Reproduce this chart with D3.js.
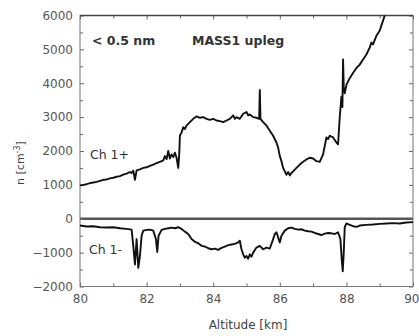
<!DOCTYPE html>
<html><head><meta charset="utf-8">
<script src="https://cdn.jsdelivr.net/npm/d3@7"></script>
<style>body{margin:0;background:#fff}svg{display:block}</style>
</head><body>
<svg id="c" width="419" height="336"></svg>
<script>
const xTicksMajor = [80, 82, 84, 86, 88, 90];
const xTicksMinor = [81, 83, 85, 87, 89];
const yTicksMajor = [-2000, -1000, 0, 1000, 2000, 3000, 4000, 5000, 6000];
const yTicksMinor = [-1500, -500, 500, 1500, 2500, 3500, 4500, 5500];

const posAlt = [80.00,80.10,80.20,80.30,80.40,80.50,80.60,80.70,80.80,80.90,81.00,81.10,81.20,81.30,81.40,81.50,81.55,81.60,81.65,81.70,81.80,81.90,82.00,82.10,82.20,82.30,82.40,82.50,82.55,82.60,82.65,82.70,82.75,82.80,82.85,82.90,82.95,82.98,83.00,83.05,83.10,83.15,83.20,83.30,83.40,83.50,83.60,83.70,83.80,83.90,84.00,84.10,84.20,84.30,84.40,84.50,84.60,84.65,84.70,84.80,84.90,85.00,85.05,85.10,85.20,85.30,85.38,85.40,85.42,85.50,85.60,85.70,85.80,85.90,85.95,86.00,86.05,86.10,86.15,86.20,86.25,86.30,86.35,86.40,86.50,86.60,86.70,86.80,86.90,87.00,87.10,87.20,87.30,87.40,87.45,87.50,87.60,87.70,87.75,87.80,87.85,87.88,87.90,87.92,87.95,88.00,88.10,88.20,88.30,88.40,88.50,88.60,88.70,88.75,88.80,88.90,89.00,89.05,89.10,89.15];
const posVal = [980,1000,1020,1050,1070,1090,1120,1150,1160,1190,1210,1240,1260,1300,1330,1380,1350,1420,1150,1430,1460,1500,1520,1560,1600,1640,1680,1720,1850,1760,2000,1780,1900,1820,1950,1800,1500,1900,2450,2550,2700,2650,2750,2850,2950,3020,2980,3000,2950,2920,2950,2900,2880,2850,2900,2950,3050,2950,3000,2950,3100,3150,3050,3080,3000,2980,2950,3800,2950,2850,2750,2600,2450,2250,2100,1850,1700,1500,1400,1300,1380,1280,1350,1400,1500,1600,1680,1750,1800,1780,1700,1680,1900,2400,2350,2450,2400,2250,2200,3000,3600,3300,4700,3900,3700,3950,4150,4300,4450,4550,4700,4850,5050,5200,5150,5400,5550,5700,5850,6000];

const negAlt = [80.00,80.20,80.40,80.60,80.80,81.00,81.20,81.40,81.55,81.60,81.65,81.70,81.75,81.80,81.85,81.90,82.00,82.10,82.20,82.28,82.32,82.36,82.45,82.55,82.65,82.75,82.85,82.95,83.05,83.15,83.25,83.35,83.45,83.55,83.65,83.75,83.85,83.95,84.05,84.15,84.25,84.35,84.45,84.55,84.65,84.75,84.80,84.85,84.90,84.95,85.00,85.05,85.10,85.15,85.20,85.30,85.40,85.50,85.60,85.70,85.80,85.85,85.90,85.95,86.00,86.05,86.15,86.25,86.35,86.45,86.55,86.65,86.75,86.85,86.95,87.05,87.15,87.25,87.35,87.45,87.55,87.65,87.75,87.82,87.86,87.89,87.92,87.95,88.00,88.10,88.20,88.30,88.40,88.60,88.80,89.00,89.20,89.40,89.60,89.80,90.00];
const negVal = [-200,-230,-220,-250,-260,-250,-280,-300,-320,-800,-1350,-600,-1450,-1100,-500,-350,-330,-320,-350,-600,-980,-500,-330,-300,-280,-260,-280,-250,-300,-380,-450,-600,-680,-720,-800,-820,-870,-900,-880,-920,-860,-820,-780,-760,-740,-700,-650,-900,-1050,-1150,-1100,-1180,-1050,-1120,-1000,-850,-800,-900,-850,-880,-600,-450,-400,-550,-700,-500,-350,-280,-260,-300,-320,-310,-350,-370,-380,-420,-450,-480,-440,-420,-430,-450,-400,-600,-1200,-1550,-1000,-250,-140,-180,-220,-240,-200,-180,-170,-150,-140,-130,-140,-110,-100];

const svg = d3.select("#c");
const L = 80, R = 413, T = 15.5, B = 286.5;
const x = d3.scaleLinear().domain([80, 90]).range([L, R]);
const y = d3.scaleLinear().domain([-2000, 6000]).range([B, T]);
const font = "DejaVu Sans, sans-serif";
const axCol = "#666";

// zero line
svg.append("line").attr("x1", L).attr("x2", R).attr("y1", y(0)).attr("y2", y(0))
  .attr("stroke", "#555").attr("stroke-width", 2.5);

// axes
function styleAxis(g){ g.select(".domain").remove(); g.selectAll("line").attr("stroke", axCol); g.selectAll("text").attr("fill", "#555").style("font-family", font).style("font-size", "12px"); }
const xb = svg.append("g").attr("transform", `translate(0,${B})`)
  .call(d3.axisBottom(x).tickValues(xTicksMajor).tickFormat(d3.format("d")).tickSizeInner(-4).tickPadding(8)).call(styleAxis);
xb.selectAll(".tick").filter(d => d === 90).select("text").attr("text-anchor", "end").attr("x", 6);
svg.append("g").attr("transform", `translate(0,${B})`)
  .call(d3.axisBottom(x).tickValues(xTicksMinor).tickFormat("").tickSizeInner(-3)).call(styleAxis);
svg.append("g").attr("transform", `translate(0,${T})`)
  .call(d3.axisTop(x).tickValues(xTicksMajor).tickFormat("").tickSizeInner(-4)).call(styleAxis);
svg.append("g").attr("transform", `translate(0,${T})`)
  .call(d3.axisTop(x).tickValues(xTicksMinor).tickFormat("").tickSizeInner(-3)).call(styleAxis);
svg.append("g").attr("transform", `translate(${L},0)`)
  .call(d3.axisLeft(y).tickValues(yTicksMajor).tickFormat(d3.format("d")).tickSizeInner(-4).tickPadding(7)).call(styleAxis);
svg.append("g").attr("transform", `translate(${L},0)`)
  .call(d3.axisLeft(y).tickValues(yTicksMinor).tickFormat("").tickSizeInner(-3)).call(styleAxis);
svg.append("g").attr("transform", `translate(${R},0)`)
  .call(d3.axisRight(y).tickValues(yTicksMajor).tickFormat("").tickSizeInner(-4)).call(styleAxis);
svg.append("g").attr("transform", `translate(${R},0)`)
  .call(d3.axisRight(y).tickValues(yTicksMinor).tickFormat("").tickSizeInner(-3)).call(styleAxis);

// frame
svg.append("rect").attr("x", L).attr("y", T).attr("width", R - L).attr("height", B - T)
  .attr("fill", "none").attr("stroke", "#777").attr("stroke-width", 1);
svg.append("line").attr("x1", L).attr("x2", R).attr("y1", T).attr("y2", T).attr("stroke", "#444").attr("stroke-width", 1.3);

// lines
const line = d3.line().x(d => x(d[0])).y(d => y(d[1]));
svg.append("path").datum(d3.zip(posAlt, posVal)).attr("d", line)
  .attr("fill", "none").attr("stroke", "#111").attr("stroke-width", 1.9).attr("stroke-linejoin", "round");
svg.append("path").datum(d3.zip(negAlt, negVal)).attr("d", line)
  .attr("fill", "none").attr("stroke", "#111").attr("stroke-width", 1.9).attr("stroke-linejoin", "round");

// annotations
const txt = (s, xx, yy, opts = {}) => svg.append("text").attr("x", xx).attr("y", yy).text(s)
  .style("font-family", font).style("font-size", opts.size || "12px").style("font-weight", opts.weight || "normal")
  .attr("fill", opts.fill || "#333").attr("text-anchor", opts.anchor || "start");
txt("< 0.5 nm", 92, 44.5, {weight: "bold", size: "12.5px"});
txt("MASS1 upleg", 192, 44.5, {weight: "bold", size: "12.5px"});
txt("Ch 1+", 90, 159, {size: "12.5px"});
txt("Ch 1-", 89, 254, {size: "12.5px"});
txt("Altitude [km]", 248, 329, {anchor: "middle", fill: "#444"});

const yl = svg.append("text").attr("transform", "translate(24,163) rotate(-90)").attr("text-anchor", "middle")
  .style("font-family", font).style("font-size", "11px").attr("fill", "#444");
yl.append("tspan").text("n [cm");
yl.append("tspan").text("-3").attr("dy", -4).style("font-size", "8px");
yl.append("tspan").text("]").attr("dy", 4);
</script>
</body></html>
